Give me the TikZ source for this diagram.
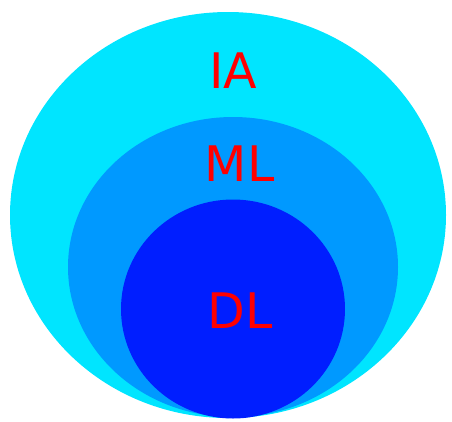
\documentclass[tikz,border=0pt]{standalone}
\usepackage{fontspec}
\setmainfont{DejaVu Sans}
\usepackage{xcolor}
\usetikzlibrary{positioning,shapes.geometric}
\definecolor{iacyan}{RGB}{0,229,255}
\definecolor{mlblue}{RGB}{0,153,255}
\definecolor{dlblue}{RGB}{0,30,255}
\definecolor{lblred}{RGB}{255,0,0}

\begin{document}
\begin{tikzpicture}[
  x=1pt,y=-1pt,
  ring/.style ={ellipse,draw=none,inner sep=0pt},
  tag/.style  ={text=lblred,inner sep=0pt,
                font=\fontsize{49}{49}\selectfont},
]
\useasboundingbox (0,0) rectangle (452,421);

% ===================== nested sets =======================================
\node[ring,fill=iacyan,minimum width=436pt,minimum height=406pt] (IA) at (228,215) {};
\node[ring,fill=mlblue,minimum width=330pt,minimum height=300pt] (ML) at (233,267) {};
\node[ring,fill=dlblue,minimum width=224pt,minimum height=219pt] (DL) at (233,309) {};

% ===================== labels ============================================
\node[tag] (tIA) at (233.5,71)  {IA};
\node[tag] (tML) at (239.5,164) {ML};
\node[tag] (tDL) at (240,311)   {DL};

\end{tikzpicture}
\end{document}
